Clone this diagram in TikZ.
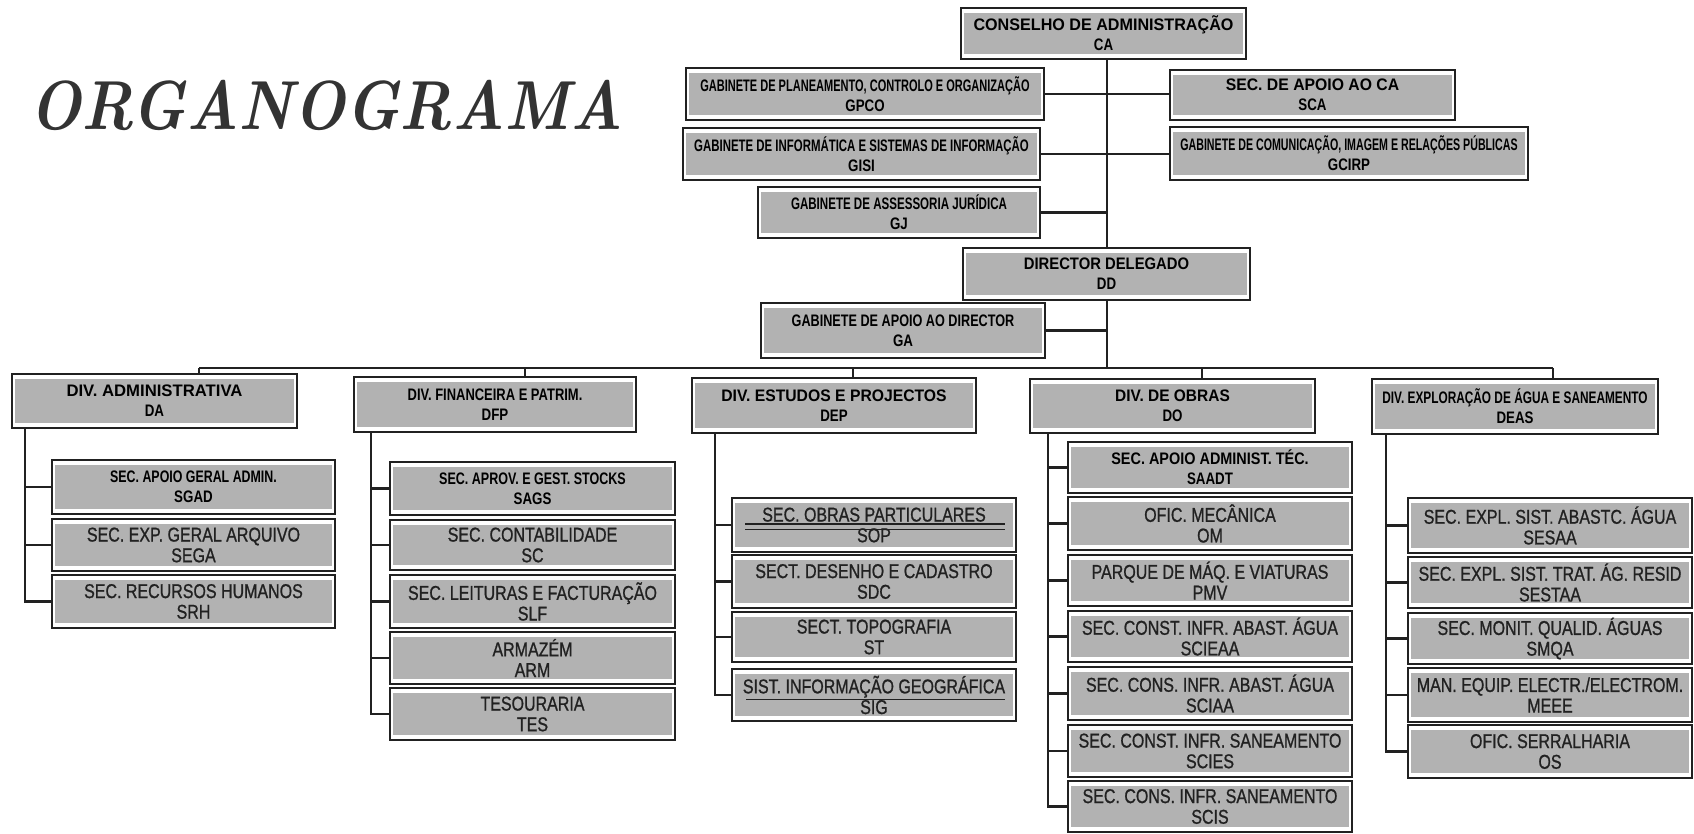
\documentclass[tikz,border=0pt]{standalone}
\usepackage{fontspec}
\usepackage{graphicx}
\newfontfamily\subf[FakeStretch=0.8,FakeBold=0.9]{Liberation Sans}
\newfontfamily\headf[FakeStretch=0.8]{Liberation Sans}
\newcommand\fitw[2]{\resizebox{#1}{\height}{#2}}
\definecolor{boxgray}{gray}{0.7}
\definecolor{ink}{gray}{0.13}
\tikzset{
  conn/.style={line width=1.6pt, draw=ink},
  orgbox/.style={draw=ink, line width=1.6pt, fill=white, inner sep=0pt, outer sep=0pt, align=center,
    path picture={\fill[boxgray] ([xshift=2.25pt,yshift=3.5pt]path picture bounding box.south west) rectangle ([xshift=-2.25pt,yshift=-3.5pt]path picture bounding box.north east);}},
  subtext/.style={font=\subf\fontsize{15}{15.5}\selectfont, text=ink},
  headtext/.style={font=\headf\bfseries\fontsize{12.5}{15}\selectfont, text=black},
  titletext/.style={font=\fontsize{52}{52}\selectfont\bfseries\itshape, text=black!80}
}
\newcommand\bx[7][subtext]{%
  \node[orgbox,#1,minimum width={(#5-#3)*0.75pt},minimum height={(#6-#4)*0.75pt}] (#2) at ({(#3+#5)/2},{(#4+#6)/2}) {#7};}
\begin{document}
\begin{tikzpicture}[x=0.75pt,y=-0.75pt]
\useasboundingbox (0,0) rectangle (1694,834);
\node[titletext, anchor=base] (title) at (326,130) {\fitw{445pt}{ORGANOGRAMA}};
% top level
\bx[headtext]{ca}{961}{8}{1246}{59}{\fitw{195pt}{CONSELHO DE ADMINISTRAÇÃO}\\CA}
\bx[headtext]{gaci}{686}{68}{1044}{120}{\fitw{247pt}{GABINETE DE PLANEAMENTO, CONTROLO E ORGANIZAÇÃO}\\GPCO}
\bx[headtext]{gpei}{683}{128}{1040}{180}{\fitw{251pt}{GABINETE DE INFORMÁTICA E SISTEMAS DE INFORMAÇÃO}\\GISI}
\bx[headtext]{cf}{758}{187}{1040}{238}{\fitw{162pt}{GABINETE DE ASSESSORIA JURÍDICA}\\GJ}
\bx[headtext]{sca}{1170}{70}{1455}{120}{\fitw{130pt}{SEC. DE APOIO AO CA}\\SCA}
\bx[headtext]{gcirp}{1170}{127}{1528}{180}{\fitw{253pt}{GABINETE DE COMUNICAÇÃO, IMAGEM E RELAÇÕES PÚBLICAS}\\GCIRP}
\bx[headtext]{dd}{963}{248}{1250}{300}{\fitw{124pt}{DIRECTOR DELEGADO}\\DD}
\bx[headtext]{ga}{761}{303}{1045}{358}{\fitw{167pt}{GABINETE DE APOIO AO DIRECTOR}\\GA}
% divisions
\bx[headtext]{da}{12}{374}{297}{428}{\fitw{132pt}{DIV. ADMINISTRATIVA}\\DA}
\bx[headtext]{dfp}{354}{377}{636}{432}{\fitw{131pt}{DIV. FINANCEIRA E PATRIM.}\\DFP}
\bx[headtext]{dep}{692}{378}{976}{433}{\fitw{169pt}{DIV. ESTUDOS E PROJECTOS}\\DEP}
\bx[headtext]{do}{1030}{379}{1315}{433}{\fitw{86pt}{DIV. DE OBRAS}\\DO}
\bx[headtext]{deas}{1372}{379}{1658}{434}{\fitw{199pt}{DIV. EXPLORAÇÃO DE ÁGUA E SANEAMENTO}\\DEAS}
% DA children
\bx[headtext]{sgad}{52}{460}{335}{514}{\fitw{125pt}{SEC. APOIO GERAL ADMIN.}\\SGAD}
\bx{sega}{52}{519}{335}{571}{SEC. EXP. GERAL ARQUIVO\\SEGA}
\bx{srh}{52}{575}{335}{628}{SEC. RECURSOS HUMANOS\\SRH}
% DFP children
\bx[headtext]{sags}{390}{462}{675}{515}{\fitw{140pt}{SEC. APROV. E GEST. STOCKS}\\SAGS}
\bx{sc}{390}{520}{675}{570}{SEC. CONTABILIDADE\\SC}
\bx{slf}{390}{575}{675}{628}{SEC. LEITURAS E FACTURAÇÃO\\SLF}
\bx{arm}{390}{632}{675}{684}{ARMAZÉM\\ARM}
\bx{tes}{390}{688}{675}{740}{TESOURARIA\\TES}
% DEP children
\bx{sop}{732}{498}{1016}{552}{SEC. OBRAS PARTICULARES\\SOP}
\bx{sdc}{732}{555}{1016}{608}{SECT. DESENHO E CADASTRO\\SDC}
\bx{st}{732}{612}{1016}{662}{SECT. TOPOGRAFIA\\ST}
\bx{sig}{732}{669}{1016}{721}{SIST. INFORMAÇÃO GEOGRÁFICA\\SIG}
% DO children
\bx[headtext]{saadt}{1068}{442}{1352}{493}{\fitw{148pt}{SEC. APOIO ADMINIST. TÉC.}\\SAADT}
\bx{om}{1068}{497}{1352}{550}{OFIC. MECÂNICA\\OM}
\bx{pmv}{1068}{555}{1352}{606}{PARQUE DE MÁQ. E VIATURAS\\PMV}
\bx{scieaa}{1068}{611}{1352}{662}{SEC. CONST. INFR. ABAST. ÁGUA\\SCIEAA}
\bx{sciaa}{1068}{667}{1352}{720}{SEC. CONS. INFR. ABAST. ÁGUA\\SCIAA}
\bx{scies}{1068}{725}{1352}{777}{SEC. CONST. INFR. SANEAMENTO\\SCIES}
\bx{scis}{1068}{781}{1352}{832}{SEC. CONS. INFR. SANEAMENTO\\SCIS}
% DEAS children
\bx{sesaa}{1408}{498}{1692}{553}{SEC. EXPL. SIST. ABASTC. ÁGUA\\SESAA}
\bx{sestaa}{1408}{557}{1692}{608}{SEC. EXPL. SIST. TRAT. ÁG. RESID\\SESTAA}
\bx{smqa}{1408}{613}{1692}{664}{SEC. MONIT. QUALID. ÁGUAS\\SMQA}
\bx{meee}{1408}{668}{1692}{722}{MAN. EQUIP. ELECTR./ELECTROM.\\MEEE}
\bx{os}{1408}{725}{1692}{778}{OFIC. SERRALHARIA\\OS}
% coordinates
\coordinate (barL) at (199,368);
\coordinate (barR) at (1553,368);
\coordinate (sDFP) at (525,368);
\coordinate (sDEP) at (853,368);
\coordinate (sDO) at (1202,368);
\coordinate (vDA) at (25,0);
\coordinate (vDFP) at (371,0);
\coordinate (vDEP) at (715,0);
\coordinate (vDO) at (1048,0);
\coordinate (vDEAS) at (1386,0);
\coordinate (main) at (1107,0);
% top connectors
\draw[conn] (ca.south -| main) -- (dd.north -| main);
\draw[conn] (dd.south -| main) -- (main |- barL);
\draw[conn] (gaci.east) -- (gaci.east -| sca.west);
\draw[conn] (gpei.east) -- (gpei.east -| gcirp.west);
\draw[conn] (cf.east) -- (cf.east -| main);
\draw[conn] (ga.east) -- (ga.east -| main);
\draw[conn] (barL) -- (barR);
\draw[conn] (barL) -- (barL |- da.north);
\draw[conn] (sDFP) -- (sDFP |- dfp.north);
\draw[conn] (sDEP) -- (sDEP |- dep.north);
\draw[conn] (sDO) -- (sDO |- do.north);
\draw[conn] (barR) -- (barR |- deas.north);
% children connectors
\foreach \c in {sgad,sega,srh} \draw[conn] (da.south -| vDA) |- (\c.west);
\foreach \c in {sags,sc,slf,arm,tes} \draw[conn] (dfp.south -| vDFP) |- (\c.west);
\foreach \c in {sop,sdc,st,sig} \draw[conn] (dep.south -| vDEP) |- (\c.west);
\foreach \c in {saadt,om,pmv,scieaa,sciaa,scies,scis} \draw[conn] (do.south -| vDO) |- (\c.west);
\foreach \c in {sesaa,sestaa,smqa,meee,os} \draw[conn] (deas.south -| vDEAS) |- (\c.west);
% underlines
\draw[line width=1.6pt, ink] ([xshift=9.75pt,yshift=0.5pt]sop.west) -- ([xshift=-8.25pt,yshift=0.5pt]sop.east);
\draw[line width=0.6pt, ink] ([xshift=9.75pt,yshift=-3pt]sop.west) -- ([xshift=-8.25pt,yshift=-3pt]sop.east);
\draw[line width=0.7pt, ink] ([xshift=10.5pt,yshift=-3.5pt]sig.west) -- ([xshift=-8.25pt,yshift=-3.5pt]sig.east);
\end{tikzpicture}
\end{document}
